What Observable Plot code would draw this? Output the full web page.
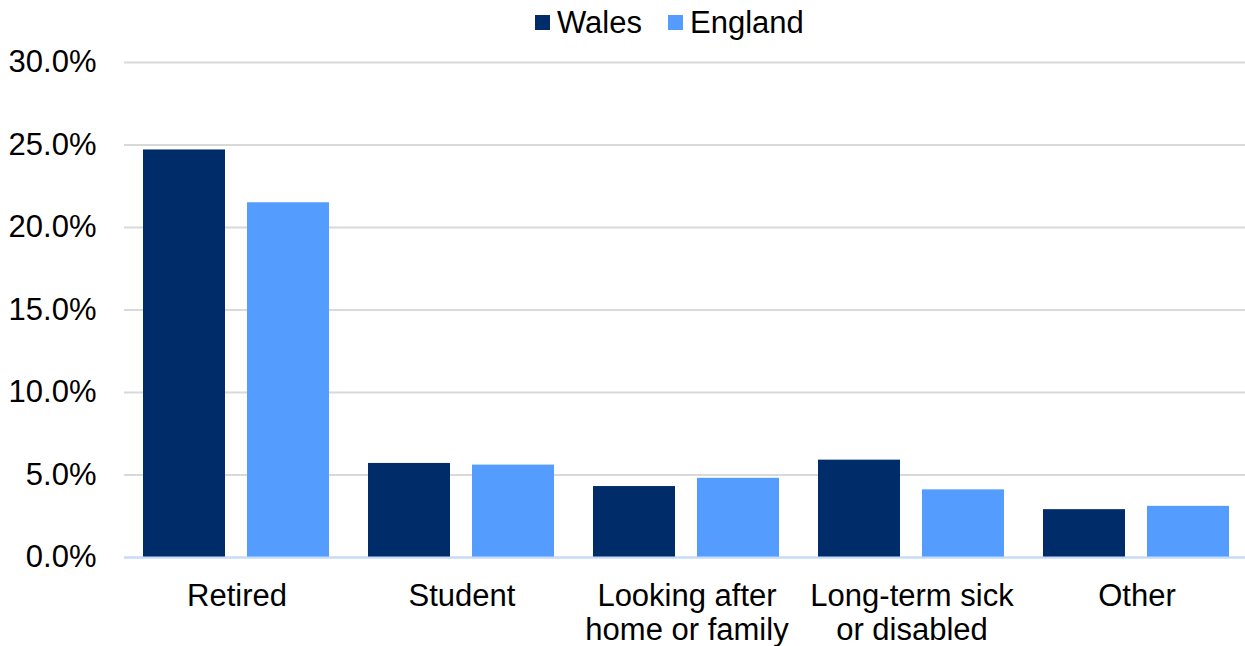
<!DOCTYPE html>
<html>
<head>
<meta charset="utf-8">
<script src="https://cdn.jsdelivr.net/npm/d3@7"></script>
<script src="https://cdn.jsdelivr.net/npm/@observablehq/plot@0.6"></script>
<style>
  html, body { margin: 0; padding: 0; background: #fff; }
  #wrap { position: relative; width: 1245px; height: 646px; overflow: hidden; font-family: "Liberation Sans", Arial, sans-serif; }
  #legend { position: absolute; left: 535px; top: 7px; height: 30px; display: flex; align-items: center; font-size: 31px; color: #000; line-height: 1; }
  #legend .item { display: flex; align-items: center; margin-right: 26px; }
  #legend .sw { width: 15px; height: 15px; margin-right: 7px; }
  #chart { position: absolute; left: 0; top: 0; width: 1249px; }
  #chart svg { max-width: none !important; }
</style>
</head>
<body>
<div id="wrap">
  <div id="chart"></div>
  <div id="legend"></div>
</div>
<script>
// Economic inactivity by reason, share of population
const categories = ["Retired", "Student", "Looking after home or family", "Long-term sick or disabled", "Other"];
const categoryLabels = ["Retired", "Student", "Looking after\nhome or family", "Long-term sick\nor disabled", "Other"];
const seriesNames = ["Wales", "England"];
const walesValues = [24.7, 5.7, 4.3, 5.9, 2.9];
const englandValues = [21.5, 5.6, 4.8, 4.1, 3.1];
const seriesColors = ["#002d6a", "#549dff"];
const yTicks = [0, 5, 10, 15, 20, 25, 30];

const rows = categories.flatMap((c, i) => [
  {category: c, series: "Wales", value: walesValues[i]},
  {category: c, series: "England", value: englandValues[i]}
]);

const labelOf = new Map(categories.map((c, i) => [c, categoryLabels[i]]));

const chart = Plot.plot({
  width: 1249,
  height: 646,
  marginTop: 62,
  marginBottom: 89,
  marginLeft: 123,
  marginRight: 0,
  style: {fontFamily: "'Liberation Sans', Arial, sans-serif", fontSize: "31px", color: "#000", background: "#fff", maxWidth: "none"},
  fx: {domain: categories, padding: 0, label: null, axis: null},
  x: {domain: seriesNames, paddingInner: 0.21, paddingOuter: 0.185, axis: null},
  y: {domain: [0, 30], label: null, axis: null},
  color: {domain: seriesNames, range: seriesColors},
  marks: [
    Plot.gridY(yTicks, {stroke: "#d9d9d9", strokeOpacity: 1, strokeWidth: 2}),
    Plot.axisY(yTicks, {tickSize: 0, tickPadding: 28, tickFormat: d => d.toFixed(1) + "%", fontSize: 31, label: null}),
    Plot.axisFx({anchor: "bottom", tickSize: 0, tickPadding: 24, fontSize: 31, lineHeight: 1.1, tickFormat: d => labelOf.get(d), label: null}),
    Plot.barY(rows, {fx: "category", x: "series", y: "value", fill: "series"}),
    Plot.ruleY([0], {stroke: "#c2dbff", strokeWidth: 2})
  ]
});
document.getElementById("chart").appendChild(chart);

const legend = document.getElementById("legend");
seriesNames.forEach((name, i) => {
  const item = document.createElement("div");
  item.className = "item";
  const sw = document.createElement("div");
  sw.className = "sw";
  sw.style.background = seriesColors[i];
  const label = document.createElement("span");
  label.textContent = name;
  item.appendChild(sw);
  item.appendChild(label);
  legend.appendChild(item);
});
</script>
</body>
</html>
